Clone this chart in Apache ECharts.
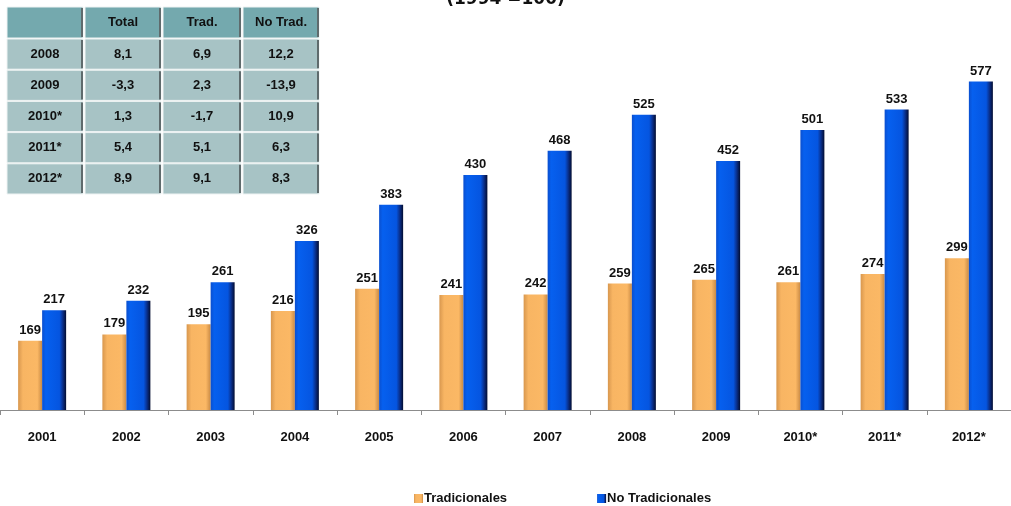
<!DOCTYPE html>
<html>
<head>
<meta charset="utf-8">
<script src="https://cdn.jsdelivr.net/npm/echarts@6/dist/echarts.min.js"></script>
<style>html,body{margin:0;padding:0;background:#fff}#c{width:1011px;height:506px}</style>
</head>
<body>
<div id="c"></div>
<script>
const categories = ['2001','2002','2003','2004','2005','2006','2007','2008','2009','2010*','2011*','2012*'];
const tradicionales = [169,179,195,216,251,241,242,259,265,261,274,299];
const noTradicionales = [217,232,261,326,383,430,468,525,452,501,533,577];
const tableHeader = ['', 'Total', 'Trad.', 'No Trad.'];
const tableYears = ['2008','2009','2010*','2011*','2012*'];
const tableTotal = ['8,1','-3,3','1,3','5,4','8,9'];
const tableTrad = ['6,9','2,3','-1,7','5,1','9,1'];
const tableNoTrad = ['12,2','-13,9','10,9','6,3','8,3'];
const subtitle = '(1994 =100)';

const FONT = '"Liberation Sans",Arial,sans-serif';

// table graphic (absolute elements)
const colX = [7, 85, 163, 243];
const colW = [76, 76, 78, 76];
const rowY0 = 7, headH = 31, rowH = 31.2;
const tableEls = [];
function cell(x, y, w, h, fill, text) {
  tableEls.push({type:'rect', z:10, shape:{x:x, y:y, width:w, height:h}, style:{fill:fill, stroke:'#eef3f3', lineWidth:1}});
  tableEls.push({type:'line', z:11, shape:{x1:x+w-1, y1:y+1, x2:x+w-1, y2:y+h-1}, style:{stroke:'#5f6b6d', lineWidth:2}});
  if (text) tableEls.push({type:'text', z:12, x:x+w/2, y:y+h/2, style:{text:text, textAlign:'center', textVerticalAlign:'middle', font:'bold 13px '+FONT, fill:'#111'}});
}
tableHeader.forEach((t,i)=>cell(colX[i], rowY0, colW[i], headH, '#74a9ae', t));
const cols = [tableYears, tableTotal, tableTrad, tableNoTrad];
for (let r=0; r<tableYears.length; r++) {
  cols.forEach((c,i)=>cell(colX[i], rowY0+headH+1+r*rowH, colW[i], rowH-1, '#a7c3c5', c[r]));
}

const chart = echarts.init(document.getElementById('c'));
chart.setOption({
  animation:false,
  backgroundColor:'#fff',
  grid:{left:0, width:1020, top:67, bottom:96, containLabel:false},
  legend:{
    top:487, left:409, itemWidth:9, itemHeight:9, itemGap:90, icon:'rect',
    textStyle:{fontFamily:FONT, fontWeight:'bold', fontSize:13, color:'#111', padding:[0,0,0,-4]},
    data:['Tradicionales','No Tradicionales']
  },
  xAxis:{
    type:'category', data:categories,
    axisLine:{lineStyle:{color:'#8c8c8c', width:1}},
    axisTick:{show:true, length:5, lineStyle:{color:'#8c8c8c'}},
    axisLabel:{fontFamily:FONT, fontWeight:'bold', fontSize:13, color:'#111', margin:21}
  },
  yAxis:{type:'value', min:60, max:600, show:false, splitLine:{show:false}},
  series:[
    {
      name:'Tradicionales', type:'bar', data:tradicionales, barWidth:24, barGap:'0%',
      itemStyle:{color:new echarts.graphic.LinearGradient(0,0,1,0,[
        {offset:0,color:'#d8974e'},{offset:0.2,color:'#f8b563'},{offset:0.8,color:'#fbb865'},{offset:1,color:'#c98a45'}])},
      label:{show:true, position:'top', distance:4, fontFamily:FONT, fontWeight:'bold', fontSize:13, color:'#111'}
    },
    {
      name:'No Tradicionales', type:'bar', data:noTradicionales, barWidth:24,
      itemStyle:{color:new echarts.graphic.LinearGradient(0,0,1,0,[
        {offset:0,color:'#0a4fcf'},{offset:0.15,color:'#0660ef'},{offset:0.72,color:'#0555e0'},{offset:0.86,color:'#0a2f8a'},{offset:1,color:'#020c30'}])},
      label:{show:true, position:'top', distance:4, fontFamily:FONT, fontWeight:'bold', fontSize:13, color:'#111'}
    }
  ],
  graphic:[
    {type:'text', left:'center', top:-9, z:10, style:{text:subtitle, font:'bold 17px "DejaVu Sans",sans-serif', fill:'#111'}}
  ].concat(tableEls)
});
</script>
</body>
</html>
